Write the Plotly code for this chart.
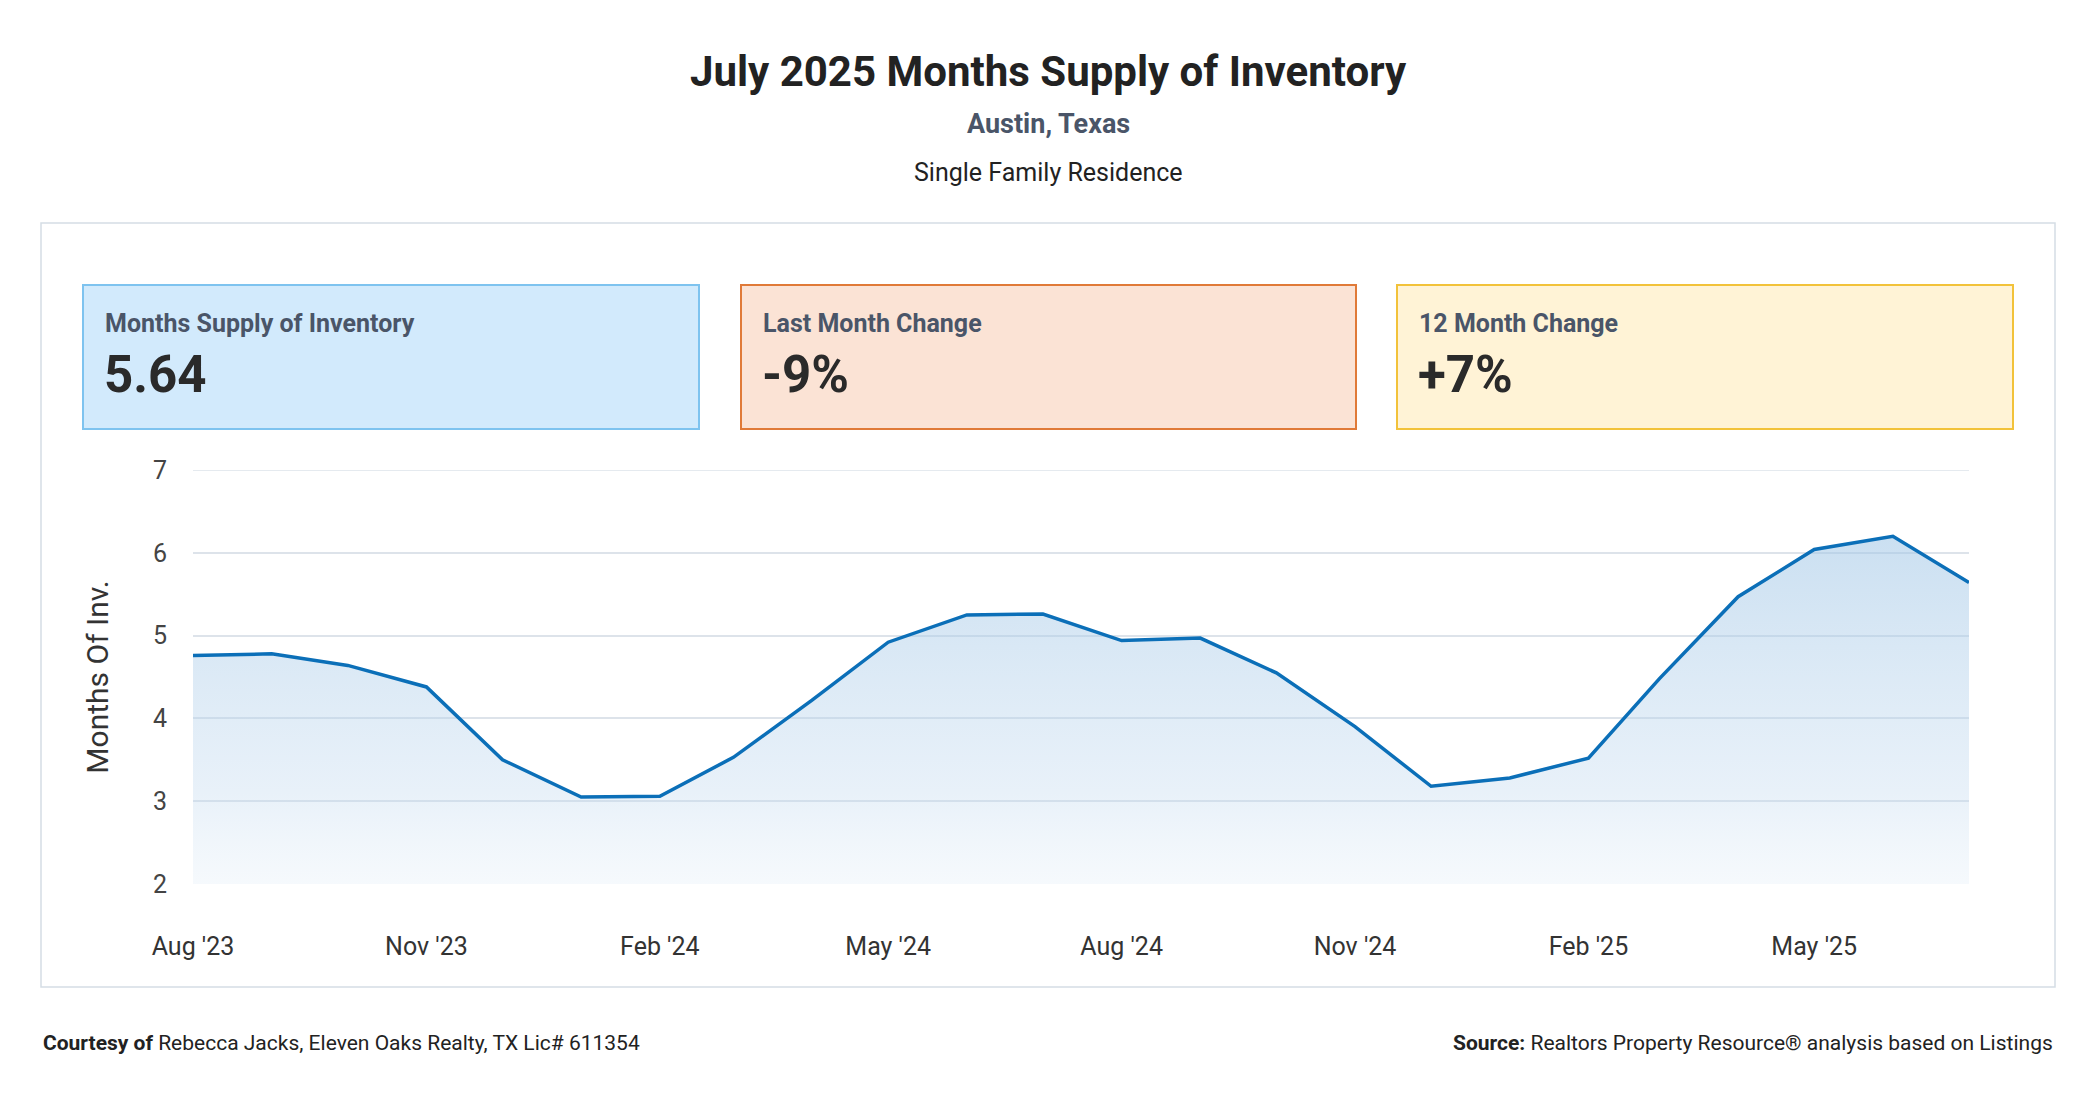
import plotly.graph_objects as go

months = ["2023-08", "2023-09", "2023-10", "2023-11", "2023-12", "2024-01", "2024-02", "2024-03",
          "2024-04", "2024-05", "2024-06", "2024-07", "2024-08", "2024-09", "2024-10", "2024-11",
          "2024-12", "2025-01", "2025-02", "2025-03", "2025-04", "2025-05", "2025-06", "2025-07"]
supply = [4.76, 4.78, 4.64, 4.38, 3.50, 3.05, 3.06, 3.53, 4.22, 4.92, 5.25, 5.26,
          4.94, 4.97, 4.55, 3.90, 3.18, 3.28, 3.52, 4.48, 5.47, 6.04, 6.20, 5.64]
tick_vals = ["2023-08", "2023-11", "2024-02", "2024-05", "2024-08", "2024-11", "2025-02", "2025-05"]
tick_text = ["Aug '23", "Nov '23", "Feb '24", "May '24", "Aug '24", "Nov '24", "Feb '25", "May '25"]
card_labels = ["Months Supply of Inventory", "Last Month Change", "12 Month Change"]
card_values = ["5.64", "-9%", "+7%"]

W, H = 2096, 1100
def px(x): return x / W
def py(y): return 1 - y / H

fig = go.Figure()
fig.add_trace(go.Scatter(
    x=months, y=supply, mode="lines",
    line=dict(color="#0b6fb8", width=3.5),
    fill="tozeroy",
    fillgradient=dict(type="vertical",
                      colorscale=[[0, "rgba(255,255,255,0)"], [0.5, "rgba(190,215,238,0.35)"], [1, "rgba(160,198,230,0.55)"]]),
    hoverinfo="x+y",
))

shapes = [dict(type="rect", xref="paper", yref="paper", x0=px(41), x1=px(2055), y0=py(987), y1=py(223),
               line=dict(color="#d5dde5", width=1.5), fillcolor="rgba(0,0,0,0)", layer="below"),
          # top gridline at 7
          dict(type="line", xref="paper", yref="y", x0=px(193), x1=px(1969), y0=7, y1=7,
               line=dict(color="#dde3ea", width=1.5), layer="below")]
cards = [(83, 699, "#d2eafc", "#7ec3ef"), (741, 1356, "#fbe3d5", "#e07a38"), (1397, 2013, "#fff3d6", "#f2c23a")]
ann = []
for (x0, x1, fc, lc), lab, val in zip(cards, card_labels, card_values):
    shapes.append(dict(type="rect", xref="paper", yref="paper", x0=px(x0), x1=px(x1), y0=py(429), y1=py(285),
                       line=dict(color=lc, width=2), fillcolor=fc, layer="below"))
    ann.append(dict(x=px(x0 + 20), y=py(323), xanchor="left", yanchor="middle", text=f"<b>{lab}</b>",
                    font=dict(size=25, color="#4a5568")))
    ann.append(dict(x=px(x0 + 19), y=py(375), xanchor="left", yanchor="middle", text=f"<b>{val}</b>",
                    font=dict(size=51, color="#2a2a2a")))

ann += [
    dict(x=0.5, y=py(71), text="<b>July 2025 Months Supply of Inventory</b>", font=dict(size=42, color="#222")),
    dict(x=0.5, y=py(124), text="<b>Austin, Texas</b>", font=dict(size=27, color="#4a5568")),
    dict(x=0.5, y=py(173), text="Single Family Residence", font=dict(size=25, color="#222")),
    dict(x=px(41), y=py(1043), xanchor="left", text="<b>Courtesy of</b> Rebecca Jacks, Eleven Oaks Realty, TX Lic# 611354",
         font=dict(size=21, color="#222")),
    dict(x=px(2055), y=py(1043), xanchor="right",
         text="<b>Source:</b> Realtors Property Resource® analysis based on Listings",
         font=dict(size=21, color="#222")),
]
for a in ann:
    a.setdefault("xref", "paper"); a.setdefault("yref", "paper"); a.setdefault("showarrow", False)
    a.setdefault("yanchor", "middle")

fig.update_layout(
    autosize=True, margin=dict(l=0, r=0, t=0, b=0),
    paper_bgcolor="white", plot_bgcolor="white",
    font=dict(family="Roboto, sans-serif"),
    showlegend=False, shapes=shapes, annotations=ann,
    xaxis=dict(domain=[px(193), px(1969)], tickvals=tick_vals, ticktext=tick_text, showgrid=False,
               range=["2023-08-01", "2025-07-01"], tickfont=dict(size=25, color="#333"),
               ticklabelstandoff=45, zeroline=False, showline=False, automargin=False),
    yaxis=dict(domain=[py(884), py(470)], range=[2, 7], dtick=1, gridcolor="#dde3ea", gridwidth=1.5,
               tickfont=dict(size=25, color="#444"), ticklabelstandoff=25, zeroline=False, automargin=False,
               title=dict(text="Months Of Inv.", font=dict(size=30, color="#333"), standoff=35)),
)
fig.write_html("out.html", default_width="100vw", default_height="100vh",
               config={"displayModeBar": False},
               post_script="document.body.style.margin='0';")
